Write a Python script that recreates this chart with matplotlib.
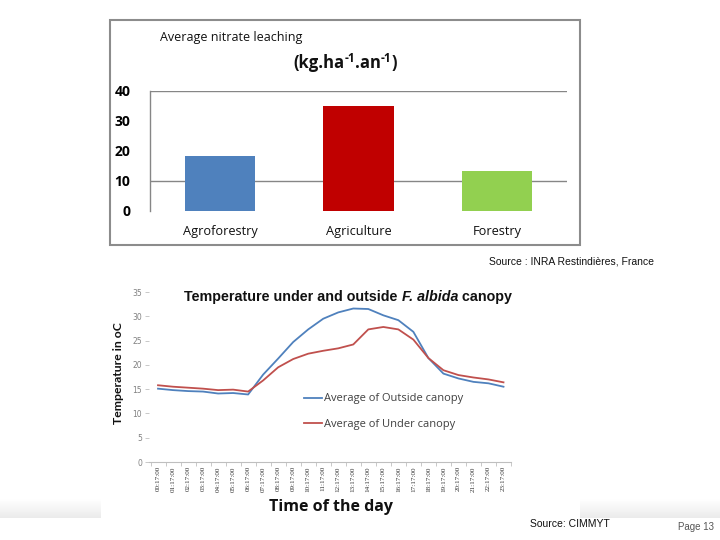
import matplotlib
matplotlib.use("Agg")
import matplotlib.pyplot as plt
from matplotlib.patches import Rectangle
import numpy as np

# ---- data ----
leach_categories = ["Agroforestry", "Agriculture", "Forestry"]
leach_values = [18.3, 35.0, 13.3]
leach_colors = ["#4F81BD", "#C00000", "#92D050"]

hours = ["%02d:17:00" % h for h in range(24)]
outside_canopy = [15.1, 14.8, 14.6, 14.5, 14.1, 14.2, 13.9, 18.0, 21.3, 24.7, 27.3, 29.5,
                  30.8, 31.6, 31.5, 30.2, 29.2, 26.8, 21.4, 18.2, 17.2, 16.5, 16.2, 15.5]
under_canopy = [15.8, 15.5, 15.3, 15.1, 14.8, 14.9, 14.5, 16.8, 19.5, 21.2, 22.3, 22.9,
                23.4, 24.2, 27.3, 27.8, 27.3, 25.2, 21.4, 18.9, 17.9, 17.4, 17.0, 16.4]
temp_yticks = [0, 5, 10, 15, 20, 25, 30, 35]

W, H = 720, 540
fig = plt.figure(figsize=(7.2, 5.4), dpi=100)
fig.patch.set_facecolor("white")

def fx(px): return px / W
def fy(py): return 1 - py / H

SANS = ["Open Sans", "DejaVu Sans"]
ARIAL = ["Liberation Sans", "DejaVu Sans"]

# bottom faint band
band = fig.add_axes([0, fy(518), 1, (518 - 499) / H], zorder=0)
grad = np.linspace(1.0, 0.92, 50).reshape(-1, 1)
band.imshow(grad, aspect="auto", cmap="gray", vmin=0, vmax=1, extent=[0, 1, 0, 1], origin="upper")
band.axis("off")
fig.patches.append(Rectangle((fx(101), fy(520)), fx(580) - fx(101), (520 - 280) / H,
                             transform=fig.transFigure, facecolor="white", edgecolor="none", zorder=0.5))

# ---- top chart frame ----
fig.patches.append(Rectangle((fx(110), fy(245)), fx(580) - fx(110), (245 - 20) / H,
                             transform=fig.transFigure, facecolor="white",
                             edgecolor="#8c8c8c", linewidth=1.5, zorder=0.6))

ax1 = fig.add_axes([fx(150), fy(211), fx(567) - fx(150), (211 - 91) / H], zorder=2)
ax1.patch.set_alpha(0)
x = np.arange(len(leach_categories))
ax1.bar(x, leach_values, width=0.51, color=leach_colors, zorder=3)
ax1.set_xlim(-0.505, 2.505)
ax1.set_ylim(0, 40)
ax1.set_yticks([0, 10, 20, 30, 40])
for yv in [10, 40]:
    ax1.axhline(yv, color="#868686", lw=1.0, zorder=1)
for s in ["top", "right", "bottom"]:
    ax1.spines[s].set_visible(False)
ax1.spines["left"].set_color("#868686")
ax1.spines["left"].set_linewidth(1.0)
ax1.tick_params(axis="y", length=0, pad=14, labelsize=10)
for lab in ax1.get_yticklabels():
    lab.set_fontweight("bold")
    lab.set_family(SANS)
ax1.set_xticks([])
for xi, c in zip(x, leach_categories):
    ax1.text(xi, -0.175, c, transform=ax1.get_xaxis_transform(), ha="center", va="center",
             fontsize=9.2, family=SANS, color="#111111")
fig.text(fx(160), fy(37), "Average nitrate leaching", ha="left", va="center",
         fontsize=9, family=SANS, color="#111111")
fig.text(fx(489), fy(261), "Source : INRA Restindières, France", ha="left", va="center",
         fontsize=7.5, family=ARIAL, color="#111111")

# ---- bottom chart ----
ax2 = fig.add_axes([fx(149), fy(462), fx(511) - fx(149), (462 - 292) / H], zorder=2)
ax2.patch.set_alpha(0)
xh = np.arange(len(hours))
ax2.plot(xh, outside_canopy, color="#4F81BD", lw=1.3, label="Average of Outside canopy")
ax2.plot(xh, under_canopy, color="#C0504D", lw=1.3, label="Average of Under canopy")
ax2.set_xlim(-0.6, 23.4)
ax2.set_ylim(0, 35)
ax2.set_yticks(temp_yticks)
for s in ["top", "right", "left"]:
    ax2.spines[s].set_visible(False)
ax2.spines["bottom"].set_color("#bfbfbf")
ax2.spines["bottom"].set_linewidth(0.8)
ax2.tick_params(axis="y", length=3, width=0.6, color="#bfbfbf", pad=2, labelsize=5.5,
                labelcolor="#808080")
ax2.set_xticks(xh)
ax2.set_xticklabels(hours, rotation=90, fontsize=5.1, family=["Liberation Serif"], color="#333333")
ax2.tick_params(axis="x", length=0, pad=3)
ax2.set_xticks(np.arange(-0.5, 23.6, 1), minor=True)
ax2.tick_params(axis="x", which="minor", length=3, width=0.6, color="#bfbfbf")
leg = ax2.legend(loc="upper left", bbox_to_anchor=((300 - 149) / (511 - 149), (462 - 389) / 170),
                 frameon=False, fontsize=8, handlelength=1.6, handletextpad=0.2,
                 labelspacing=1.3, borderaxespad=0)
for t in leg.get_texts():
    t.set_color("#404040")
    t.set_family(SANS)

fig.canvas.draw()
renderer = fig.canvas.get_renderer()

def chain(parts, cx, cy):
    objs = []
    for txt, kw, dy in parts:
        objs.append(fig.text(0, fy(cy + dy), txt, ha="left", va="baseline", **kw))
    widths = [o.get_window_extent(renderer).width for o in objs]
    start = cx - sum(widths) / 2
    for o, w in zip(objs, widths):
        o.set_x(fx(start))
        start += w

# units line with superscripts
big = dict(fontsize=12, fontweight="bold", family=SANS, color="#111111")
sup = dict(fontsize=8.5, fontweight="bold", family=SANS, color="#111111")
chain([("(kg.ha", big, 0), ("-1", sup, -6), (".an", big, 0), ("-1", sup, -6), (")", big, 0)],
      345, 68)

# title with italic part
tkw = dict(fontsize=10.3, fontweight="bold", family=ARIAL, color="#111111")
tkw_i = dict(tkw, style="italic")
chain([("Temperature under and outside ", tkw, 0), ("F. albida", tkw_i, 0), (" canopy", tkw, 0)],
      348, 301)

fig.text(fx(118), fy(373), "Temperature in oC", rotation=90, ha="center", va="center",
         fontsize=8.8, fontweight="bold", family=["Lato", "DejaVu Sans"], color="#111111")
fig.text(fx(331), fy(507), "Time of the day", ha="center", va="center",
         fontsize=11.5, fontweight="bold", family=SANS, color="#111111")
fig.text(fx(530), fy(524), "Source: CIMMYT", ha="left", va="center",
         fontsize=7.5, family=ARIAL, color="#111111")
fig.text(fx(678), fy(527), "Page 13", ha="left", va="center",
         fontsize=7, family=ARIAL, color="#555555")

fig.savefig("out.png", dpi=100)
